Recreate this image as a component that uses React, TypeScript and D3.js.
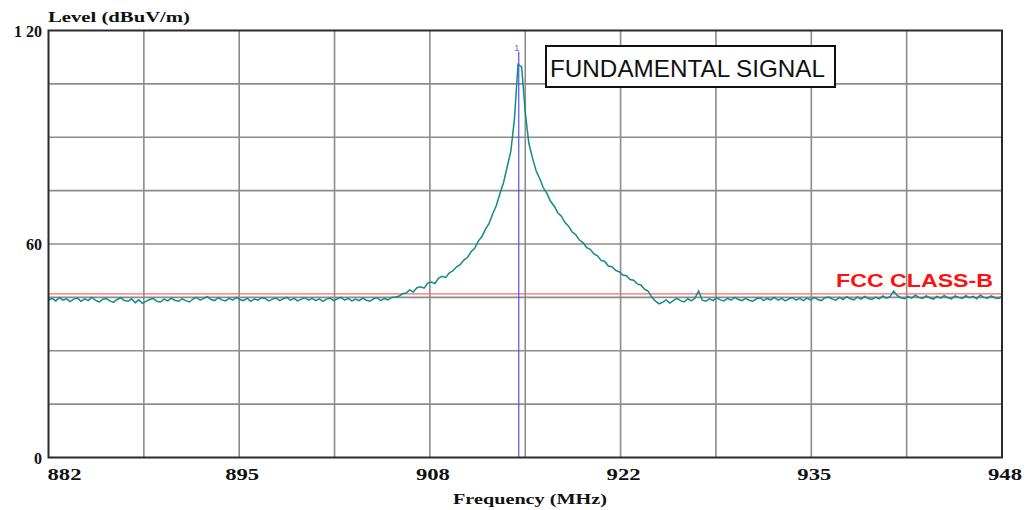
import React from "react";
import * as d3 from "d3";

// ---- data ----
const startFreq = 882;
const stepFreq = 0.25;
const traceLevels: number[] = [
  // 882.00 - 905.75 noise floor
  44.2, 44.7, 44.0, 44.9, 44.2, 44.6, 43.8, 44.5, 44.8, 43.9, 44.6, 44.1,
  45.0, 44.2, 43.7, 44.5, 44.7, 44.0, 43.6, 44.4, 44.9, 44.1, 43.9, 44.6,
  43.5, 44.3, 43.3, 43.9, 44.4, 44.7, 43.9, 43.7, 44.5, 44.0, 44.8, 44.2,
  43.9, 44.6, 44.1, 43.7, 44.5, 45.0, 44.2, 44.7, 45.2, 44.4, 44.1, 44.9,
  44.3, 44.0, 44.7, 44.2, 45.0, 44.4, 44.1, 44.8, 43.9, 44.6, 44.2, 44.9,
  44.7, 44.0, 44.5, 44.8, 44.1, 44.6, 45.0, 44.2, 44.7, 44.0, 44.5, 44.9,
  44.2, 44.7, 44.1, 44.6, 43.9, 44.5, 44.8, 44.1, 44.6, 45.0, 44.2, 44.7,
  44.0, 44.5, 44.1, 44.8, 44.2, 43.9, 44.6, 44.9, 44.1, 44.7, 44.3, 45.0,
  // 906.00 - 924.00 fundamental skirt
  45.1, 45.3, 46.0, 46.2, 47.1, 46.5, 47.7, 48.0, 47.6, 49.0, 49.3, 48.9,
  50.4, 50.9, 50.6, 51.9, 52.5, 53.6, 54.2, 55.5, 56.2, 57.8, 58.8, 60.8,
  62.1, 64.2, 65.8, 68.5, 70.8, 74.2, 77.3, 81.7, 86.0, 95.0, 110.5, 109.8,
  97.0, 88.3, 84.2, 80.6, 78.4, 75.8, 74.2, 72.0, 70.7, 68.8, 67.8, 66.0,
  65.0, 63.4, 62.6, 61.1, 60.4, 59.0, 58.5, 57.2, 56.7, 55.4, 55.1, 53.8,
  53.6, 52.6, 52.2, 51.3, 51.1, 50.0, 49.8, 48.8, 48.5, 47.3, 46.8, 45.1,
  44.0,
  // 924.25 - 948.00 noise floor
  43.2, 43.6, 44.3, 43.4, 44.1, 44.7, 44.1, 43.7, 44.6, 44.0, 44.8, 46.8,
  44.2, 43.9, 44.6, 44.1, 44.9, 44.3, 44.0, 44.7, 44.2, 45.0, 44.4, 44.1,
  44.7, 44.2, 43.9, 44.6, 44.9, 44.1, 44.7, 44.3, 45.0, 44.2, 44.7, 44.0,
  44.6, 44.9, 44.2, 44.7, 44.1, 44.8, 44.3, 45.0, 44.4, 44.1, 44.9, 45.1,
  44.5, 44.2, 45.0, 44.4, 45.2, 44.6, 44.3, 45.1, 44.5, 45.3, 44.7, 44.4,
  45.1, 44.6, 45.4, 44.8, 45.2, 46.8, 45.5, 44.9, 44.6, 45.3, 44.8, 45.6,
  45.0, 44.7, 45.4, 44.9, 44.5, 45.3, 44.8, 45.5, 44.9, 44.6, 45.4, 45.0,
  44.7, 45.5, 44.9, 45.3, 44.6, 45.6, 45.0, 44.8, 45.4, 44.9, 44.7, 45.3,
];
const xTickValues = [882, 888.6, 895.2, 901.8, 908.4, 915, 921.6, 928.2, 934.8, 941.4, 948];
const xTickLabels = ["882", "", "895", "", "908", "", "922", "", "935", "", "948"];
const yTickValues = [0, 15, 30, 45, 60, 75, 90, 105, 120];
const yTickLabels = ["0", "", "", "", "60", "", "", "", "1 20"];
const limitLevel = 46;
const limitLabel = "FCC CLASS-B";
const markerFreq = 914.55;
const markerLabel = "1";
const annotation = "FUNDAMENTAL SIGNAL";
const xTitle = "Frequency (MHz)";
const yTitle = "Level (dBuV/m)";

const W = 1026;
const H = 510;
const left = 48.5;
const right = 1002;
const top = 30.5;
const bottom = 457.5;

export default function App() {
  const x = d3.scaleLinear().domain([882, 948]).range([left, right]);
  const y = d3.scaleLinear().domain([0, 120]).range([bottom, top]);
  const pts: [number, number][] = traceLevels.map((v, i) => [startFreq + i * stepFreq, v]);
  const line = d3
    .line<[number, number]>()
    .x((d) => x(d[0]))
    .y((d) => y(d[1]));
  const serif = "'Liberation Serif', 'Times New Roman', serif";
  const sans = "'Liberation Sans', Arial, sans-serif";
  return (
    <svg
      width={W}
      height={H}
      style={{ position: "absolute", left: 0, top: 0, background: "#fff" }}
    >
      {/* grid */}
      {xTickValues.slice(1, -1).map((v, i) => (
        <line key={"gx" + i} x1={x(v)} x2={x(v)} y1={top} y2={bottom} stroke="#8c8c8c" strokeWidth={1.6} />
      ))}
      {yTickValues.slice(1, -1).map((v, i) => (
        <line key={"gy" + i} x1={left} x2={right} y1={y(v)} y2={y(v)} stroke="#8c8c8c" strokeWidth={1.6} />
      ))}
      {/* limit line */}
      <line x1={left} x2={right} y1={y(limitLevel)} y2={y(limitLevel)} stroke="#ff6a6a" strokeWidth={1.3} />
      {/* marker */}
      <line x1={x(markerFreq)} x2={x(markerFreq)} y1={y(114)} y2={bottom} stroke="#5050ff" strokeWidth={1.2} />
      <text x={x(markerFreq) - 2} y={y(114) - 1} fontSize={9} fill="#6060ff" fontFamily={sans} textAnchor="middle">
        {markerLabel}
      </text>
      {/* trace */}
      <path d={line(pts) || ""} fill="none" stroke="#138a8a" strokeWidth={1.5} />
      {/* frame */}
      <rect x={left} y={top} width={right - left} height={bottom - top} fill="none" stroke="#2a2a2a" strokeWidth={2} />
      {/* annotation box */}
      <rect x={546} y={46} width={289} height={41} fill="#fff" stroke="#111" strokeWidth={2} />
      <text x={550} y={77} fontSize={24} fontFamily={sans} fill="#111" textLength={275} lengthAdjust="spacingAndGlyphs">
        {annotation}
      </text>
      {/* limit label */}
      <text x={836} y={287} fontSize={19} fontWeight="bold" fontFamily={sans} fill="#ff1010" textLength={157} lengthAdjust="spacingAndGlyphs">
        {limitLabel}
      </text>
      {/* y labels */}
      {yTickValues.map((v, i) =>
        yTickLabels[i] ? (
          <text key={"yl" + i} x={42} y={Math.min(Math.max(y(v) + 6, 37), 468)} fontSize={16} fontWeight="bold" fontFamily={serif} textAnchor="end" fill="#111">
            {yTickLabels[i]}
          </text>
        ) : null
      )}
      {/* x labels */}
      {xTickValues.map((v, i) => {
        if (!xTickLabels[i]) return null;
        let cx = x(v) + 3;
        if (i === 0) cx = x(v) + 16;
        return (
          <text key={"xl" + i} x={cx} y={480} fontSize={17} fontWeight="bold" fontFamily={serif} textAnchor="middle" fill="#111" textLength={34} lengthAdjust="spacingAndGlyphs">
            {xTickLabels[i]}
          </text>
        );
      })}
      <text x={530} y={504} fontSize={15} fontWeight="bold" fontFamily={serif} textAnchor="middle" fill="#111" textLength={154} lengthAdjust="spacingAndGlyphs">
        {xTitle}
      </text>
      <text x={48} y={22} fontSize={15} fontWeight="bold" fontFamily={serif} fill="#111" textLength={142} lengthAdjust="spacingAndGlyphs">
        {yTitle}
      </text>
    </svg>
  );
}
